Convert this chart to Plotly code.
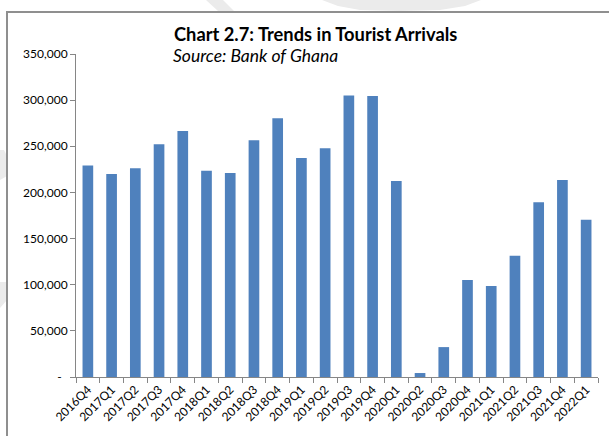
import plotly.graph_objects as go

# Quarterly tourist arrivals
quarters = [
    "2016Q4", "2017Q1", "2017Q2", "2017Q3", "2017Q4", "2018Q1", "2018Q2",
    "2018Q3", "2018Q4", "2019Q1", "2019Q2", "2019Q3", "2019Q4", "2020Q1",
    "2020Q2", "2020Q3", "2020Q4", "2021Q1", "2021Q2", "2021Q3", "2021Q4",
    "2022Q1",
]
arrivals = [
    229200, 219900, 226300, 252300, 266600, 223400, 221000,
    256600, 280300, 237200, 248000, 305100, 304400, 212300,
    4300, 32400, 105100, 98600, 131400, 189300, 213500,
    170300,
]

tick_values = [0, 50000, 100000, 150000, 200000, 250000, 300000, 350000]
tick_labels = ["-\u2002", "50,000", "100,000", "150,000", "200,000",
               "250,000", "300,000", "350,000"]

W, H = 609, 436
L, R, T, B = 76, 11, 54, 59
PW, PH = W - L - R, H - T - B


def px(x, y):
    """Pixel position -> paper coordinates (for decorations only)."""
    return (x - L) / PW, (H - B - y) / PH


def path(points):
    pts = [px(x, y) for x, y in points]
    return "M " + " L ".join(f"{a:.4f},{b:.4f}" for a, b in pts) + " Z"


FONT = "Lato, Carlito, Calibri, sans-serif"
AXIS = "#868686"

fig = go.Figure(
    go.Bar(
        x=quarters,
        y=arrivals,
        marker=dict(color="#4F81BD", line=dict(width=0)),
        hoverinfo="x+y",
    )
)

shapes = []
# faint background marks behind the chart frame
for poly in [
    [(206, 0), (223, 0), (234, 11), (218, 11)],
    [(322, 0), (481, 0), (465, 6), (440, 10), (400, 11), (360, 10), (338, 6)],
    [(0, 150), (4, 150), (7, 156), (7, 176), (0, 180)],
    [(0, 282), (7, 282), (7, 300), (0, 308)],
]:
    shapes.append(dict(type="path", xref="paper", yref="paper", path=path(poly),
                       fillcolor="#ebebeb", line=dict(width=0), layer="below"))

# chart frame
x0, y0 = px(7, 445)
x1, y1 = px(620, 12)
shapes.append(dict(type="rect", xref="paper", yref="paper",
                   x0=x0, y0=y0, x1=x1, y1=y1,
                   line=dict(color="#8f8f8f", width=2),
                   fillcolor="white", layer="below"))

tx, ty = px(172, 34)
sx, sy = px(171, 55)
annotations = [
    dict(text="<b>Chart 2.7: Trends in Tourist Arrivals</b>", xref="paper",
         yref="paper", x=tx, y=ty, xanchor="left", yanchor="middle",
         showarrow=False, font=dict(family=FONT, size=18.3, color="#000000")),
    dict(text="<i>Source: Bank of Ghana</i>", xref="paper", yref="paper",
         x=sx, y=sy, xanchor="left", yanchor="middle", showarrow=False,
         font=dict(family=FONT, size=17.5, color="#000000")),
]

fig.update_layout(
    width=W, height=H,
    margin=dict(l=L, r=R, t=T, b=B, pad=0),
    paper_bgcolor="white",
    plot_bgcolor="rgba(0,0,0,0)",
    showlegend=False,
    bargap=0.55,
    shapes=shapes,
    annotations=annotations,
    font=dict(family=FONT, color="#000000"),
)

fig.update_xaxes(
    type="category",
    showline=True, linecolor=AXIS, linewidth=1,
    ticks="outside", tickson="boundaries", ticklen=5, tickcolor=AXIS,
    tickangle=-45, tickfont=dict(family=FONT, size=12, color="#000000"),
    showgrid=False, zeroline=False,
)
fig.update_yaxes(
    range=[0, 350000],
    tickmode="array", tickvals=tick_values, ticktext=tick_labels,
    showline=True, linecolor=AXIS, linewidth=1,
    ticks="outside", ticklen=5, tickcolor=AXIS,
    tickfont=dict(family=FONT, size=12, color="#000000"),
    showgrid=False, zeroline=False,
)

fig.write_html("out.html")
